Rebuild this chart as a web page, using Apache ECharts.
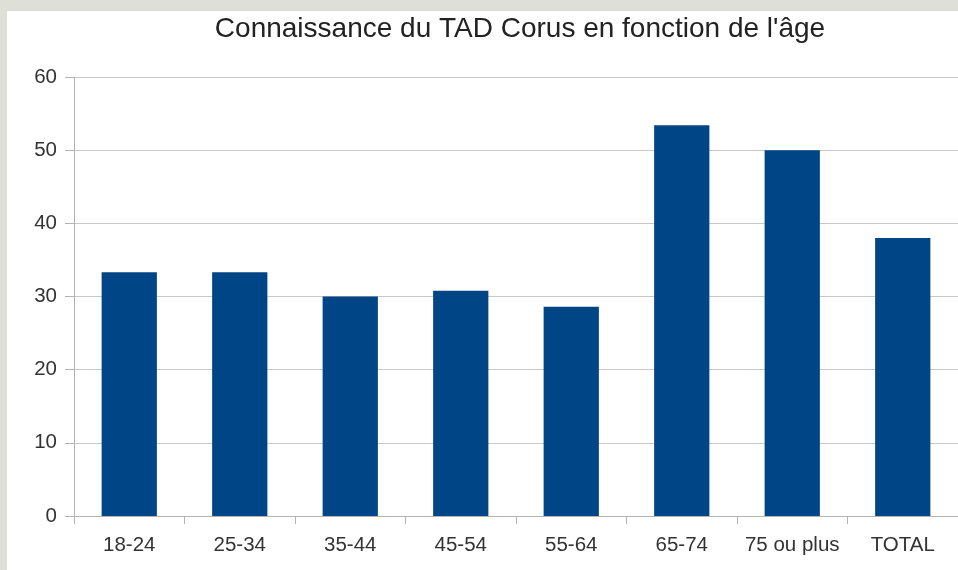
<!DOCTYPE html>
<html>
<head>
<meta charset="utf-8">
<script src="https://cdn.jsdelivr.net/npm/echarts@6/dist/echarts.min.js"></script>
<style>
  html, body { margin: 0; padding: 0; background: #dedfd7; }
  #chart { position: absolute; left: 7px; top: 11px; width: 951px; height: 559px; background: #ffffff; }
</style>
</head>
<body>
<div id="chart"></div>
<script>
// data
const titleText = "Connaissance du TAD Corus en fonction de l'âge"
const categories = ['18-24', '25-34', '35-44', '45-54', '55-64', '65-74', '75 ou plus', 'TOTAL']
const values = [33.3, 33.3, 30, 30.8, 28.6, 53.4, 50, 38]

const chart = echarts.init(document.getElementById('chart'))
const fontFamily = '"Liberation Sans", Arial, sans-serif'

chart.setOption({
  animation: false,
  title: {
    text: titleText,
    left: 508,
    top: -1,
    textAlign: 'center',
    textStyle: {
      fontFamily: fontFamily,
      fontSize: 28,
      fontWeight: 'normal',
      color: '#222222'
    }
  },
  grid: {
    left: 67,
    right: 0,
    top: 66,
    bottom: 54,
    containLabel: false
  },
  xAxis: {
    type: 'category',
    data: categories,
    axisLine: { lineStyle: { color: '#b3b3b3', width: 1 } },
    axisTick: { show: true, length: 8, lineStyle: { color: '#b3b3b3' } },
    axisLabel: {
      interval: 0,
      margin: 19,
      fontFamily: fontFamily,
      fontSize: 20.5,
      color: '#333333'
    }
  },
  yAxis: {
    type: 'value',
    min: 0,
    max: 60,
    interval: 10,
    axisLine: { show: true, lineStyle: { color: '#b3b3b3', width: 1 } },
    axisTick: { show: true, length: 9, lineStyle: { color: '#b3b3b3' } },
    splitLine: { lineStyle: { color: '#c8c8c8', width: 1 } },
    axisLabel: {
      margin: 17,
      fontFamily: fontFamily,
      fontSize: 20.5,
      color: '#333333'
    }
  },
  series: [
    {
      type: 'bar',
      data: values,
      barWidth: '50%',
      itemStyle: { color: '#004586' }
    }
  ]
})
</script>
</body>
</html>
